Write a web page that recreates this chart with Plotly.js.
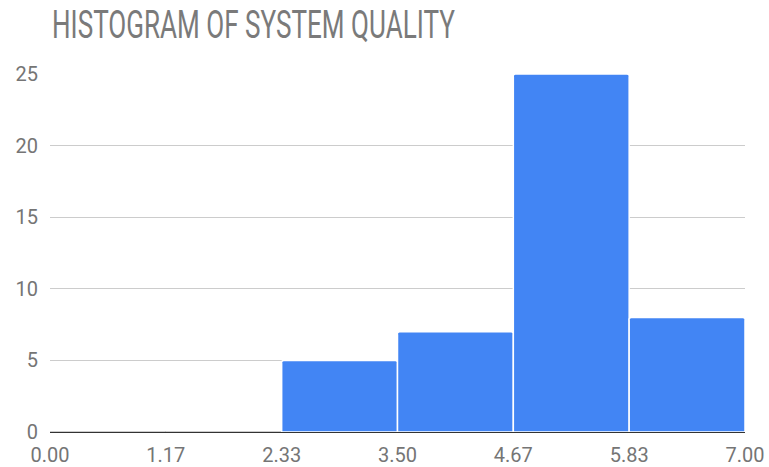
<!DOCTYPE html>
<html>
<head>
<meta charset="utf-8">
<script src="https://cdn.plot.ly/plotly-3.0.1.min.js"></script>
<style>html,body{margin:0;padding:0;background:#fff;}#chart{width:769px;height:467px;}</style>
</head>
<body>
<div id="chart"></div>
<script>
var binStarts = [0, 7/6, 14/6, 21/6, 28/6, 35/6];
var binWidth = 7/6;
var counts = [0, 0, 5, 7, 25, 8];
var xTickVals = [0, 7/6, 14/6, 21/6, 28/6, 35/6, 7];
var xTickText = ["0.00", "1.17", "2.33", "3.50", "4.67", "5.83", "7.00"];
var yTickVals = [0, 5, 10, 15, 20, 25];

var centers = binStarts.map(function(s){ return s + binWidth/2; });

var trace = {
  type: 'bar',
  x: centers,
  y: counts,
  width: binWidth,
  marker: {color: '#4285f4', line: {color: '#ffffff', width: 1.5}, cornerradius: 3},
  hoverinfo: 'skip'
};

var layout = {
  width: 769, height: 467,
  margin: {l: 50, r: 24, t: 74, b: 35},
  paper_bgcolor: '#ffffff', plot_bgcolor: '#ffffff',
  showlegend: false,
  bargap: 0,
  title: {
    text: 'HISTOGRAM OF SYSTEM QUALITY',
    font: {family: 'Roboto, sans-serif', size: 38, color: '#7a7a7a'},
    x: 52/769, xanchor: 'left', xref: 'container',
    y: 1 - 25/467, yanchor: 'middle', yref: 'container'
  },
  xaxis: {
    range: [0, 7],
    tickvals: xTickVals, ticktext: xTickText,
    showgrid: false, zeroline: false, showline: false,
    ticks: '',
    ticklabelstandoff: 9,
    tickfont: {family: 'Roboto, sans-serif', size: 20, color: '#757575'},
    fixedrange: true
  },
  yaxis: {
    range: [0, 25],
    tickvals: yTickVals,
    showgrid: true, gridcolor: '#cccccc', gridwidth: 1,
    zeroline: true, zerolinecolor: '#333333', zerolinewidth: 2,
    showline: false, ticks: '',
    ticklabelstandoff: 11,
    tickfont: {family: 'Roboto, sans-serif', size: 20, color: '#757575'},
    fixedrange: true
  }
};

Plotly.newPlot('chart', [trace], layout, {displayModeBar: false, staticPlot: true}).then(function(){
  // condense the title horizontally to match the narrow title face
  var t = document.querySelector('.gtitle');
  if (t) {
    var bb = t.getBBox();
    var target = 403;
    if (bb.width > target) {
      var s = target / bb.width;
      var x0 = bb.x;
      t.setAttribute('transform', 'translate(' + x0 + ',0) scale(' + s + ',1) translate(' + (-x0) + ',0)');
    }
  }
});
</script>
</body>
</html>
